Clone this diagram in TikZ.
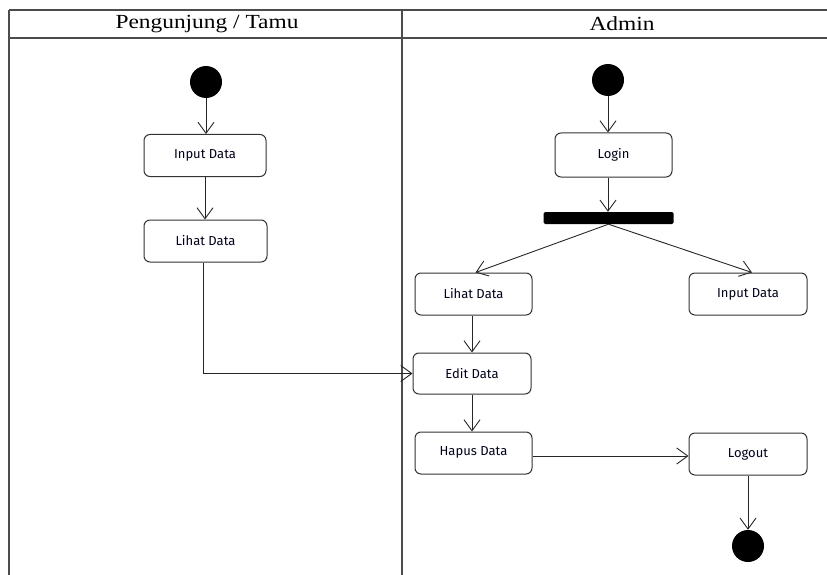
\documentclass[tikz,border=0pt]{standalone}
\usepackage{fontspec}
\setmainfont{Liberation Serif}
\newfontfamily\boxfont{Fira Sans}
\usetikzlibrary{arrows.meta}
\begin{document}
\begin{tikzpicture}[x=1pt,y=-1pt,
  act/.style={draw=black!80, line width=1pt, rounded corners=6pt, minimum height=42pt, inner sep=0pt, font=\boxfont\fontsize{13}{15}\selectfont, text=black!90!blue},
  dot/.style={circle, fill=black, minimum size=32pt, inner sep=0pt},
  arr/.style={draw=black!85, line width=0.9pt, -{Straight Barb[length=11pt,width=16pt,line width=0.9pt]}},
  frame/.style={draw=black!70, line width=1.4pt},
  head/.style={font=\fontsize{20}{22}\selectfont, inner sep=0pt}]
\useasboundingbox (0,0) rectangle (827,575);
% swimlane frame
\draw[frame] (9,10) -- (827,10);
\draw[frame] (9,38) -- (827,38);
\draw[frame] (9,10) -- (9,575);
\draw[frame] (402,10) -- (402,575);
\node[head] (h1) at (207,24) {\scalebox{1.17}[1]{Pengunjung / Tamu}};
\node[head] (h2) at (622,24) {\scalebox{1.17}[1]{Admin}};
% left lane
\node[dot] (s1) at (206,82) {};
\node[act, minimum width=122pt] (in1) at (205,155.5) {Input Data};
\node[act, minimum width=123pt] (lh1) at (205.5,241) {Lihat Data};
% right lane
\node[dot] (s2) at (608,80) {};
\node[act, minimum width=117pt, minimum height=44pt] (login) at (613.5,155) {Login};
\node[fill=black, rounded corners=1.5pt, minimum width=130pt, minimum height=12pt, inner sep=0pt] (fork) at (608.5,218) {};
\node[act, minimum width=117pt] (lh2) at (473.5,294) {Lihat Data};
\node[act, minimum width=118pt] (in2) at (748,294) {Input Data};
\node[act, minimum width=118pt, minimum height=41pt] (edit) at (472,373.5) {Edit Data};
\node[act, minimum width=117pt] (hapus) at (473.5,453) {\raisebox{3pt}{Hapus Data}};
\node[act, minimum width=118pt] (logout) at (748,454) {Logout};
\node[dot] (e) at (748,546) {};
% connectors
\draw[arr] (s1.south) -- (s1.south |- in1.north);
\draw[arr] (in1.south) -- (lh1.north -| in1.south);
\draw[arr] ([xshift=-2pt]lh1.south) |- (edit.west);
\draw[arr] (s2.south) -- (s2.south |- login.north);
\draw[arr] (login.south -| s2) -- (fork.north -| s2);
\draw[arr] (fork.south) -- ([xshift=2pt]lh2.north);
\draw[arr] (fork.south) -- ([xshift=4pt]in2.north);
\draw[arr] ([xshift=-1.5pt]lh2.south) -- (edit.north);
\draw[arr] (edit.south) -- (edit.south |- hapus.north);
\draw[arr] ([yshift=-3pt]hapus.east) -- ([yshift=-2pt]logout.west);
\draw[arr] (logout.south) -- (e.north);
\end{tikzpicture}
\end{document}
